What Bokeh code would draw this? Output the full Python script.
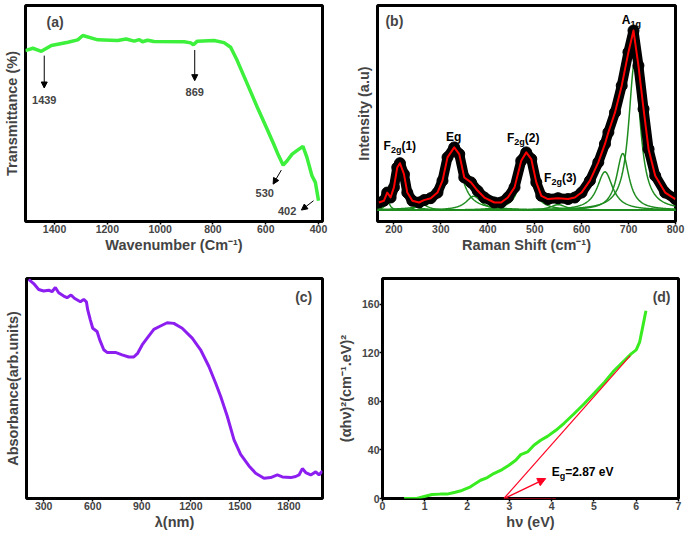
from bokeh.plotting import figure
from bokeh.layouts import column, row
from bokeh.models import Range1d, FixedTicker, Label, Arrow, NormalHead
from bokeh.embed import file_html
from bokeh.resources import INLINE
import numpy as np

FONT = "Liberation Sans"

# ---------------- (a) FTIR ----------------
ftir_wavenumber = [1511, 1482, 1450, 1412, 1349, 1312, 1293, 1236, 1161, 1129, 1098, 1079, 1067,
                   1048, 1023, 909, 884, 874, 859, 796, 758, 733, 708, 670, 632, 595, 570, 551,
                   534, 519, 500, 482, 459, 444, 425, 412, 400]
ftir_transmittance = [79.1, 80.2, 78.8, 81.5, 83.0, 84.1, 86.1, 84.1, 83.8, 84.5, 83.5, 84.2, 83.2,
                      83.9, 83.3, 83.2, 82.7, 81.8, 83.5, 83.8, 82.8, 80.7, 74.5, 63.7, 52.9, 42.8,
                      35.9, 30.4, 26.1, 28.1, 31.2, 32.8, 34.8, 29.7, 21.2, 18.1, 9.6]
ftir_ticks = [400, 600, 800, 1000, 1200, 1400]
ftir_labels = ["1439", "869", "530", "402"]
ftir_label_x = [1439, 869, 604, 519]
ftir_label_y = [56.3, 59.8, 13.0, 4.9]
ftir_arrow_x0 = [1439, 869, 541, 419]
ftir_arrow_y0 = [76.8, 79.4, 23.8, 9.6]
ftir_arrow_x1 = [1439, 869, 572, 465]
ftir_arrow_y1 = [61.8, 65.2, 17.3, 5.3]

# ---------------- (b) Raman ----------------
raman_shift = [167.9, 178.6, 185.7, 192.9, 200, 207.1, 212.8, 221.4, 228.5, 239.3, 253.5, 264.2,
               278.5, 292.8, 303.5, 314.2, 328.5, 339.2, 349.9, 364.2, 378.5, 392.7, 414.1, 428.5,
               442.7, 457, 471.3, 482, 492.7, 503.4, 514.1, 528.3, 549.7, 571.1, 585.4, 599.8,
               617.6, 635.5, 649.7, 657, 671.1, 685.4, 699.7, 710.5, 721, 731.9, 742.6, 756.8,
               778, 799.6]
raman_intensity = [8.8, 9.6, 13.4, 11.1, 15.8, 25.0, 27.0, 21.9, 13.4, 9.6, 8.8, 9.9,
                   10.8, 13.4, 18.9, 29.7, 34.3, 31.2, 20.4, 18.1, 14.2, 11.1, 8.8, 8.8,
                   11.1, 15.8, 28.1, 32.0, 28.9, 18.1, 11.9, 10.4, 10.8, 10.4, 11.1, 13.4,
                   18.9, 27.4, 35.9, 41.3, 50.5, 62.9, 78.4, 88.4, 72.2, 52.1, 33.5, 21.2,
                   13.4, 10.4]
raman_peak_center = [186, 210.7, 261, 328.5, 370, 482, 550, 649.7, 687.6, 712.6]
raman_peak_height = [4.5, 21.6, 2.6, 28.1, 6.5, 26.3, 2.6, 17.8, 26.3, 68.0]
raman_peak_hwhm = [6, 10, 15, 19, 20, 14, 20, 20, 16, 15]
raman_baseline = 5.2
raman_ticks = [200, 300, 400, 500, 600, 700, 800]
raman_mode_main = ["F", "E", "F", "F", "A"]
raman_mode_sub = ["2g", "", "2g", "2g", "1g"]
raman_mode_tail = ["(1)", "g", "(2)", "(3)", ""]
raman_mode_x = [178, 310.7, 441, 520, 685.4]
raman_mode_y = [34.8, 39.3, 38.6, 20.1, 93.5]

# ---------------- (c) UV-Vis-NIR ----------------
uv_wavelength = [208, 238.8, 269.4, 300, 330.6, 351, 371.4, 391.8, 422.5, 442.9, 467.4, 487.8,
                 524.5, 544.9, 561.2, 569.4, 585.7, 600, 626.6, 642.9, 667.4, 687.8, 738.9,
                 779.7, 820.5, 851.1, 875.6, 902.2, 932.8, 973.6, 1014.4, 1055.2, 1096.1,
                 1147.1, 1208.3, 1259.4, 1310.4, 1351.2, 1381.9, 1422.7, 1463.5, 1504.3,
                 1555.4, 1596.2, 1647.2, 1688, 1728.9, 1759.5, 1810.5, 1841.1, 1861.5,
                 1881.9, 1902.3, 1932.9, 1963.5, 1983.9, 2004.3]
uv_absorbance = [99.6, 97.7, 95.0, 94.3, 94.7, 94.0, 95.9, 93.5, 92.0, 91.3, 92.5, 91.0,
                 89.4, 90.5, 89.4, 85.7, 81.1, 77.4, 75.9, 72.1, 67.6, 66.4, 66.4,
                 65.3, 64.3, 64.3, 66.1, 69.8, 72.9, 76.9, 78.4, 79.9, 79.6,
                 77.4, 72.9, 67.6, 60.0, 52.5, 46.5, 37.4, 26.8, 20.1,
                 14.8, 11.5, 9.2, 9.5, 10.7, 9.8, 9.5, 10.0, 10.7,
                 13.6, 11.8, 10.7, 12.1, 10.7, 12.5]
uv_ticks = [300, 600, 900, 1200, 1500, 1800]

# ---------------- (d) Tauc ----------------
tauc_energy = [0.51, 0.81, 1.01, 1.17, 1.37, 1.53, 1.72, 1.88, 2.08, 2.20, 2.32, 2.48, 2.63,
               2.83, 2.99, 3.15, 3.27, 3.43, 3.58, 3.74, 3.90, 4.10, 4.30, 4.53, 4.77, 5.01,
               5.25, 5.48, 5.72, 5.88, 6.00, 6.08, 6.16, 6.23]
tauc_value = [0, 0, 1.9, 3.3, 3.6, 3.6, 5.2, 6.6, 9.6, 12.3, 15.0, 17.2, 20.5,
              23.8, 27.4, 31.5, 36.1, 38.3, 43.8, 47.9, 51.1, 56.1, 62.1, 69.7, 78.0, 86.7,
              95.7, 105.3, 113.5, 119.0, 122.3, 128.6, 142.2, 154.5]
tauc_fit_x = [2.87, 5.86]
tauc_fit_y = [0, 117.6]
tauc_base_x = [2.87, 4.1]
tauc_base_y = [0, 0]
tauc_arrow = [2.91, 0.5, 3.86, 16.4]
tauc_label_x = 4.0
tauc_label_y = 21.8
tauc_xticks = [0, 1, 2, 3, 4, 5, 6, 7]
tauc_yticks = [0, 40, 80, 120, 160]

CHAR_W = {'F': .611, 'A': .722, 'E': .667, '2': .556, 'g': .611, '(': .333, ')': .333, '1': .556,
          '3': .556, '=': .584, '.': .278, '8': .556, '7': .556, ' ': .278, 'e': .556, 'V': .667}


def text_w(s, size):
    return sum(CHAR_W.get(c, .556) for c in s) * size


def compound_label(p, x, y, parts, color="black"):
    off = 0
    for t, size, dy in parts:
        if t:
            p.add_layout(Label(x=x, y=y, x_offset=off, y_offset=dy, text=t, text_font=FONT,
                               text_font_style="bold", text_font_size=f"{size}px",
                               text_baseline="middle", text_align="left", text_color=color))
            off += text_w(t, size)


def make_fig(width, height, xr, yr, bl, br, bt, bb):
    p = figure(width=width, height=height, x_range=xr, y_range=yr, output_backend="svg",
               toolbar_location=None, min_border_left=bl, min_border_right=br,
               min_border_top=bt, min_border_bottom=bb)
    p.grid.visible = False
    p.outline_line_color = "black"
    p.outline_line_width = 3
    p.outline_line_alpha = 1
    for ax in p.axis:
        ax.axis_line_color = None
        ax.major_tick_line_width = 1.5
        ax.major_tick_in = 0
        ax.major_tick_out = 3
        ax.minor_tick_line_color = None
        ax.major_label_text_font = FONT
        ax.major_label_text_font_style = "bold"
        ax.major_label_text_font_size = "10.5px"
        ax.major_label_standoff = 0
        ax.axis_label_text_font = FONT
        ax.axis_label_text_font_style = "bold"
        ax.axis_label_text_font_size = "14.5px"
        ax.axis_label_standoff = 1
    return p


def hide_y_ticks(p):
    p.yaxis.ticker = FixedTicker(ticks=[])
    p.yaxis.major_tick_out = 0
    p.yaxis.major_label_text_font_size = "0px"
    p.yaxis.axis_label_standoff = 6


def panel_tag(p, x, y, t):
    p.add_layout(Label(x=x, y=y, text=t, text_font=FONT, text_font_style="bold",
                       text_font_size="14px", text_baseline="middle", text_align="center"))


# ----- (a)
pa = make_fig(330, 268, Range1d(1510, 385), Range1d(0, 100), 24, 8, 5, 47)
hide_y_ticks(pa)
pa.xaxis.ticker = FixedTicker(ticks=ftir_ticks)
pa.xaxis.axis_label = "Wavenumber (Cm⁻¹)"
pa.yaxis.axis_label = "Transmittance (%)"
pa.line(ftir_wavenumber, ftir_transmittance, line_color="#3cf03c", line_width=3.5)
for i in range(len(ftir_labels)):
    pa.add_layout(Arrow(end=NormalHead(size=6, fill_color="black", line_color="black"),
                        x_start=ftir_arrow_x0[i], y_start=ftir_arrow_y0[i],
                        x_end=ftir_arrow_x1[i], y_end=ftir_arrow_y1[i], line_width=1))
    pa.add_layout(Label(x=ftir_label_x[i], y=ftir_label_y[i], text=ftir_labels[i], text_font=FONT,
                        text_font_style="bold", text_font_size="11px", text_baseline="middle",
                        text_align="center"))
panel_tag(pa, 1398, 92.5, "(a)")

# ----- (b)
pb = make_fig(355, 268, Range1d(165, 800), Range1d(0, 100), 47, 10, 5, 47)
hide_y_ticks(pb)
pb.xaxis.ticker = FixedTicker(ticks=raman_ticks)
pb.xaxis.axis_label = "Raman Shift (cm⁻¹)"
pb.yaxis.axis_label = "Intensity (a.u)"
xs = np.linspace(165, 800, 500)
for c, h, w in zip(raman_peak_center, raman_peak_height, raman_peak_hwhm):
    pb.line(xs, raman_baseline + h / (1 + ((xs - c) / w) ** 2), line_color="#1e8c1e", line_width=1.5)
pb.line(raman_shift, raman_intensity, line_color="black", line_width=10, line_join="round")
pb.scatter(raman_shift, raman_intensity, size=11, color="black")
pb.line(raman_shift, raman_intensity, line_color="#ff0000", line_width=2, line_join="round")
for m, s, t, x, y in zip(raman_mode_main, raman_mode_sub, raman_mode_tail, raman_mode_x, raman_mode_y):
    parts = [(m, 12, 0)]
    if s:
        parts.append((s, 9, -4))
    if t:
        parts.append((t, 12, 0))
    compound_label(pb, x, y, parts)
panel_tag(pb, 201, 93, "(b)")

# ----- (c)
pc = make_fig(330, 271, Range1d(195, 2005), Range1d(0, 100), 26, 8, 10, 41)
hide_y_ticks(pc)
pc.xaxis.ticker = FixedTicker(ticks=uv_ticks)
pc.xaxis.axis_label = "λ(nm)"
pc.yaxis.axis_label = "Absorbance(arb.units)"
pc.line(uv_wavelength, uv_absorbance, line_color="#8c1ef0", line_width=3)
panel_tag(pc, 1890, 91.4, "(c)")

# ----- (d)
pd = make_fig(355, 271, Range1d(0, 7), Range1d(0, 181), 52, 7, 10, 41)
pd.xaxis.ticker = FixedTicker(ticks=tauc_xticks)
pd.yaxis.ticker = FixedTicker(ticks=tauc_yticks)
pd.yaxis.axis_label_standoff = 5
pd.xaxis.axis_label = "hν (eV)"
pd.yaxis.axis_label = "(αhν)²(cm⁻¹.eV)²"
pd.line(tauc_energy, tauc_value, line_color="#38ec20", line_width=3)
pd.line(tauc_fit_x, tauc_fit_y, line_color="#ff0022", line_width=1.2)
pd.line(tauc_base_x, tauc_base_y, line_color="#ff0022", line_width=1.2)
pd.add_layout(Arrow(end=NormalHead(size=8, fill_color="#ff0022", line_color="#ff0022"),
                    x_start=tauc_arrow[0], y_start=tauc_arrow[1], x_end=tauc_arrow[2],
                    y_end=tauc_arrow[3], line_color="#ff0022", line_width=1.5))
compound_label(pd, tauc_label_x, tauc_label_y, [("E", 12, 0), ("g", 9, -4), ("=2.87 eV", 12, 0)])
panel_tag(pd, 6.6, 166, "(d)")

layout = column(row(pa, pb), row(pc, pd))
open("out.html", "w").write(file_html(layout, INLINE))
